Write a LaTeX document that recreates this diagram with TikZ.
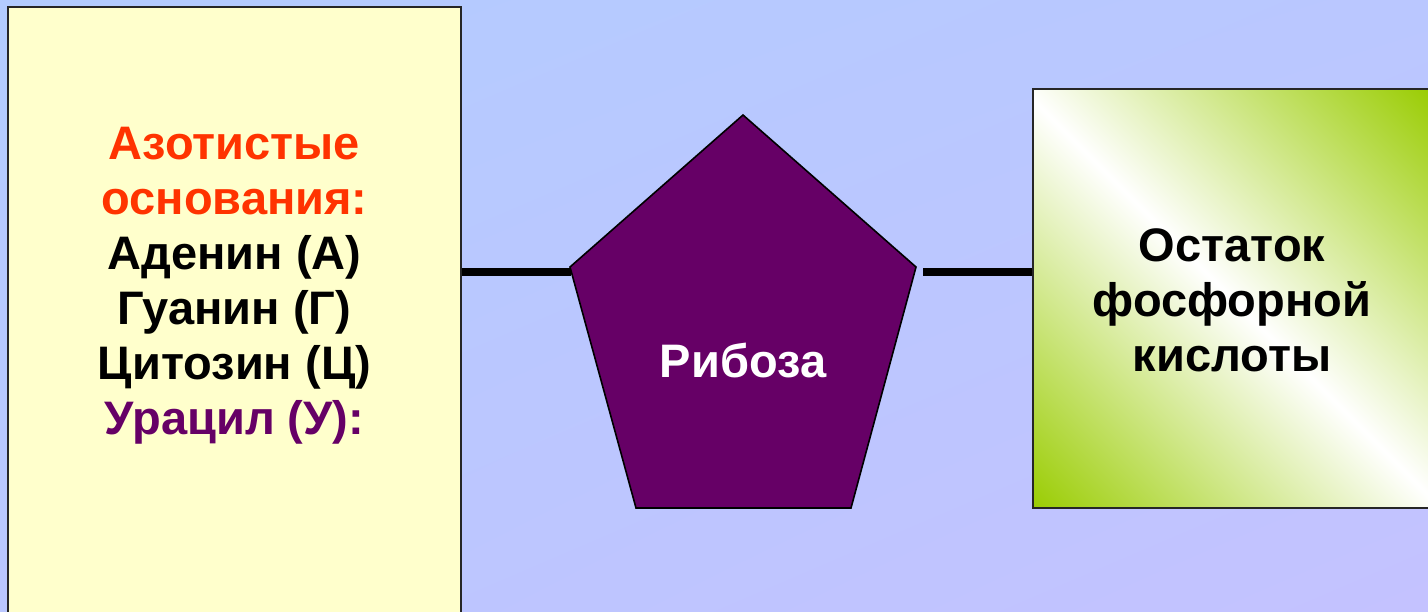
\documentclass[tikz,border=0pt]{standalone}
\usepackage{fontspec}
\setmainfont{Liberation Sans}
\usetikzlibrary{shadings}
\definecolor{bgA}{HTML}{B3CCFF}
\definecolor{bgB}{HTML}{BAC7FF}
\definecolor{bgC}{HTML}{C4C2FF}
\definecolor{boxyellow}{HTML}{FFFFCC}
\definecolor{acidgreen}{HTML}{99CC00}
\definecolor{redorange}{HTML}{FF3300}
\definecolor{darkpurple}{HTML}{660066}
\pgfdeclareverticalshading{gstripe}{100bp}{color(0bp)=(acidgreen); color(14bp)=(acidgreen); color(50bp)=(white); color(86bp)=(acidgreen); color(100bp)=(acidgreen)}
\tikzset{
  panel/.style={draw=black!85, line width=0.8pt, inner sep=0pt},
  label/.style={font=\bfseries\fontsize{23.5}{27.5}\selectfont, align=center, inner sep=0pt},
  conn/.style={line width=4pt, black},
}
\begin{document}
\begin{tikzpicture}[x=0.5pt,y=-0.5pt]
\useasboundingbox (0,0) rectangle (1428,611);
\shade[upper left=bgA, upper right=bgB, lower left=bgB, lower right=bgC] (0,0) rectangle (1428,611);
% left panel
\node[panel, fill=boxyellow, minimum width=226.5pt, minimum height=306.5pt] (lbox) at (234.5,313.5) {};
\node[label] (bases) at (234.5,286) {\textcolor{redorange}{Азотистые}\\\textcolor{redorange}{основания:}\\Аденин (А)\\Гуанин (Г)\\Цитозин (Ц)\\\textcolor{darkpurple}{Урацил (У):}};
% right panel
\node[panel, shade, shading=gstripe, shading angle=-45, minimum width=198.5pt, minimum height=209.5pt] (gbox) at (1231.5,298.5) {};
\node[label] (acid) at (1232,300) {Остаток\\фосфорной\\кислоты};
% pentagon
\draw[fill=darkpurple, line width=0.8pt, line join=miter] (743,115) coordinate (ptop) -- (916,267) coordinate (pright) -- (851,508) coordinate (pbr) -- (636,508) coordinate (pbl) -- (570,267) coordinate (pleft) -- cycle;
\node[label, text=white] (ribose) at (743,360) {Рибоза};
\coordinate (cl) at (571,272);
\coordinate (cr) at (923,272);
\draw[conn] (lbox.east |- cl) -- (cl);
\draw[conn] (cr) -- (gbox.west |- cr);
\end{tikzpicture}
\end{document}
